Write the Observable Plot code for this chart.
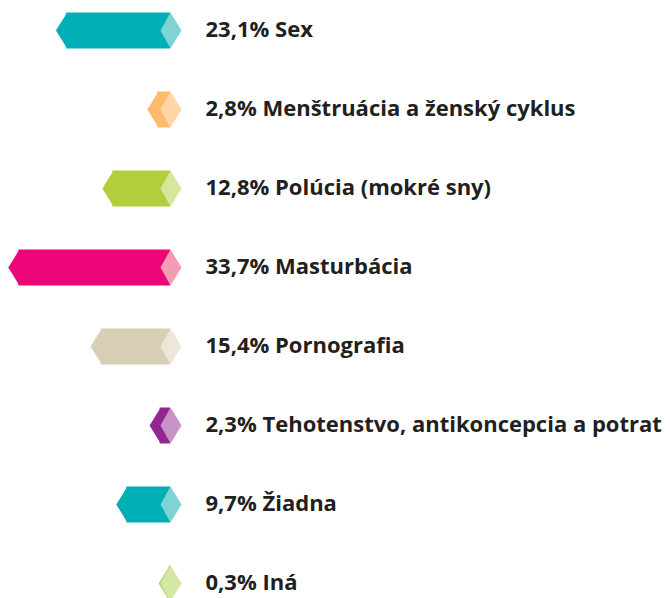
<!DOCTYPE html>
<html>
<head>
<meta charset="utf-8">
<script src="https://cdn.jsdelivr.net/npm/d3@7"></script>
<script src="https://cdn.jsdelivr.net/npm/@observablehq/plot@0.6"></script>
<style>
  html, body { margin: 0; padding: 0; background: #fff; }
  #chart svg { display: block; }
</style>
</head>
<body>
<div id="chart"></div>
<script>
const categories = ["Sex", "Menštruácia a ženský cyklus", "Polúcia (mokré sny)", "Masturbácia", "Pornografia", "Tehotenstvo, antikoncepcia a potrat", "Žiadna", "Iná"];
const values = [23.1, 2.8, 12.8, 33.7, 15.4, 2.3, 9.7, 0.3];
const labels = ["23,1%", "2,8%", "12,8%", "33,7%", "15,4%", "2,3%", "9,7%", "0,3%"];
const darkColors = ["#00AFB5", "#FDBA6B", "#B1CF3C", "#EC0677", "#D8CFB7", "#92278F", "#00AFB5", "#B7D66A"];
const lightColors = ["#80D3D5", "#FFD7A6", "#D6E69C", "#F59CB2", "#ECE7DA", "#C792C6", "#80D3D5", "#D4E7A4"];

const data = categories.map((c, i) => ({
  cat: c, value: values[i], label: labels[i] + " " + c,
  dark: darkColors[i], light: lightColors[i]
}));

const tipSymbol = {
  draw(ctx) {
    ctx.moveTo(0.6, -18);
    ctx.lineTo(-10.6, 0);
    ctx.lineTo(0.6, 18);
    ctx.closePath();
  }
};
const diamondSymbol = {
  draw(ctx) {
    ctx.moveTo(0, -18);
    ctx.lineTo(11, 0);
    ctx.lineTo(0, 18);
    ctx.lineTo(-10, 0);
    ctx.closePath();
  }
};

const chart = Plot.plot({
  width: 670,
  height: 598,
  margin: 0,
  x: { domain: [0, 40], range: [170, -10], axis: null },
  y: { type: "point", domain: categories, range: [29, 584], padding: 0, axis: null },
  style: { fontFamily: "'Open Sans', sans-serif" },
  marks: [
    Plot.ruleY(data, { y: "cat", x1: 0, x2: "value", stroke: d => d.dark, strokeWidth: 36 }),
    Plot.dot(data, { x: "value", y: "cat", r: 10, symbol: tipSymbol, fill: d => d.dark, stroke: null }),
    Plot.dot(data, { x: 0, y: "cat", r: 10, symbol: diamondSymbol, fill: d => d.light, stroke: null }),
    Plot.text(data, { x: 0, y: "cat", dx: 35, dy: -1, text: "label", textAnchor: "start", fill: "#231F20", fontSize: 22, fontWeight: "bold" })
  ]
});
document.getElementById("chart").appendChild(chart);
</script>
</body>
</html>
